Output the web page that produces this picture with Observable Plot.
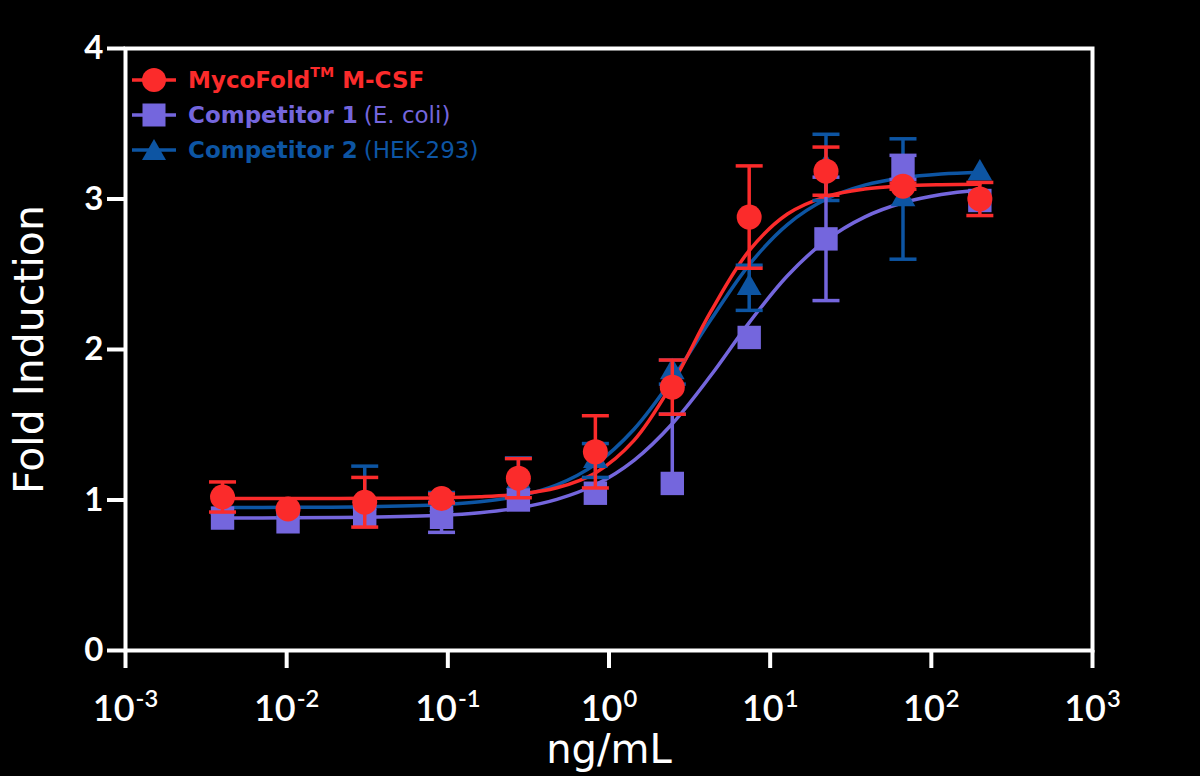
<!DOCTYPE html>
<html><head><meta charset="utf-8">
<script src="https://cdn.jsdelivr.net/npm/d3@7"></script>
<script src="https://cdn.jsdelivr.net/npm/@observablehq/plot@0.6"></script>
<style>
html,body{margin:0;padding:0;background:#000;}
#wrap{position:relative;width:1200px;height:776px;overflow:hidden;}
#legend{position:absolute;left:130px;top:62px;font-family:"DejaVu Sans",sans-serif;font-size:23px;}
.row{display:flex;align-items:center;height:35px;white-space:nowrap;}
.row svg{margin-right:10px;flex:none;}
.b{font-weight:700;}
.n{font-weight:400;margin-left:6px;}
sup{font-size:0.62em;position:relative;top:-0.15em;line-height:0;}
</style></head><body>
<div id="wrap"><div id="chart"></div><div id="legend"></div></div>
<script>
// ---- data ----
const conc = [0.004, 0.0102, 0.0305, 0.0914, 0.274, 0.823, 2.47, 7.41, 22.2, 66.7, 200];

const mycoMean = [1.02, 0.94, 0.985, 1.01, 1.145, 1.32, 1.75, 2.88, 3.185, 3.085, 3.00];
const mycoErr  = [0.10, 0, 0.165, 0.03, 0.13, 0.24, 0.18, 0.34, 0.16, 0.02, 0.11];

const comp1Mean     = [0.88, 0.855, 0.89, 0.885, 1.00, 1.045, 1.11, 2.08, 2.735, 3.21, 2.99];
const comp1ErrUp    = [0, 0, 0, 0.10, 0, 0, 0.46, 0, 0.41, 0.08, 0];
const comp1ErrDown  = [0, 0, 0, 0.10, 0, 0, 0, 0, 0.41, 0.08, 0];

const comp2Mean     = [0.95, 0.93, 0.98, 0.97, 1.12, 1.26, 1.85, 2.41, 3.21, 3.00, 3.17];
const comp2ErrUp    = [0, 0, 0.245, 0.08, 0.16, 0.115, 0.08, 0.15, 0.22, 0.40, 0];
const comp2ErrDown  = [0, 0, 0, 0, 0, 0.11, 0.08, 0.15, 0.22, 0.40, 0];

// fitted curves, read at these concentrations
const fitConc  = [0.004, 0.0102, 0.0305, 0.0914, 0.158, 0.274, 0.475, 0.823, 1.43, 2.47, 4.28, 7.41, 12.8, 22.2, 38.5, 66.7, 115, 200];
const mycoFit  = [1.01, 1.01, 1.011, 1.014, 1.021, 1.038, 1.081, 1.18, 1.396, 1.773, 2.251, 2.657, 2.90, 3.016, 3.066, 3.087, 3.095, 3.098];
const comp1Fit = [0.88, 0.882, 0.886, 0.899, 0.916, 0.947, 1.004, 1.101, 1.264, 1.507, 1.827, 2.179, 2.49, 2.725, 2.88, 2.975, 3.03, 3.06];
const comp2Fit = [0.95, 0.951, 0.955, 0.969, 0.988, 1.026, 1.101, 1.237, 1.47, 1.804, 2.197, 2.563, 2.83, 2.998, 3.092, 3.141, 3.166, 3.178];

const xTicks = [1e-3, 1e-2, 1e-1, 1e0, 1e1, 1e2, 1e3];
const yTicks = [0, 1, 2, 3, 4];
const xLabel = "ng/mL";
const yLabel = "Fold Induction";

const colors = {myco: "#fb2b2b", comp1: "#7466dd", comp2: "#0d55a3"};

// ---- series (drawn bottom to top) ----
const series = [
  {key: "comp2", color: colors.comp2, symbol: "triangle", r: 9.2, mean: comp2Mean, up: comp2ErrUp, down: comp2ErrDown, fit: comp2Fit},
  {key: "comp1", color: colors.comp1, symbol: "square", r: 13.2, mean: comp1Mean, up: comp1ErrUp, down: comp1ErrDown, fit: comp1Fit},
  {key: "myco",  color: colors.myco,  symbol: "circle", r: 12.5, mean: mycoMean, up: mycoErr, down: mycoErr, fit: mycoFit}
];

const capSymbol = {
  draw(ctx, size) {
    const w = Math.sqrt(size / Math.PI);
    ctx.moveTo(-w, 0); ctx.lineTo(w, 0);
  }
};

const marks = [];
for (const s of series) {
  const fitRows = fitConc.map((c, i) => ({x: c, y: s.fit[i]}));
  marks.push(Plot.line(fitRows, {x: "x", y: "y", stroke: s.color, strokeWidth: 3.5, curve: "catmull-rom"}));
}
for (const s of series) {
  const rows = conc.map((c, i) => ({x: c, y: s.mean[i], lo: s.mean[i] - s.down[i], hi: s.mean[i] + s.up[i], up: s.up[i], down: s.down[i]}));
  marks.push(Plot.ruleX(rows.filter(d => d.up + d.down > 0), {x: "x", y1: "lo", y2: "hi", stroke: s.color, strokeWidth: 3.5}));
  marks.push(Plot.dot(rows.filter(d => d.up > 0), {x: "x", y: "hi", symbol: capSymbol, r: 13.5, stroke: s.color, strokeWidth: 3.5, fill: "none"}));
  marks.push(Plot.dot(rows.filter(d => d.down > 0), {x: "x", y: "lo", symbol: capSymbol, r: 13.5, stroke: s.color, strokeWidth: 3.5, fill: "none"}));
  marks.push(Plot.dot(rows, {x: "x", y: "y", symbol: s.symbol, r: s.r, fill: s.color, stroke: "none"}));
}

const chart = Plot.plot({
  width: 1200,
  height: 776,
  marginLeft: 125,
  marginRight: 108,
  marginTop: 48,
  marginBottom: 126,
  style: {background: "black", color: "white", fontFamily: "Lato, sans-serif"},
  x: {type: "log", domain: [1e-3, 1e3]},
  y: {domain: [0, 4]},
  marks: [
    ...marks,
    Plot.frame({stroke: "white", strokeWidth: 4}),
    Plot.axisY({ticks: yTicks, tickSize: 18, tickPadding: 4, fontSize: 33, fontWeight: 700, stroke: "white", strokeWidth: 4, label: null, tickFormat: d => String(d)}),
    Plot.axisX({ticks: xTicks, tickSize: 18, tickPadding: 27, fontSize: 36, fontWeight: 600, stroke: "white", strokeWidth: 4, label: null,
      tickFormat: d => "10^" + Math.round(Math.log10(d))}),
    Plot.text([yLabel], {text: d => d, frameAnchor: "left", rotate: -90, dx: -96, textAnchor: "middle", lineAnchor: "middle", fontSize: 41, fontFamily: "DejaVu Sans, sans-serif", fill: "white"}),
    Plot.text([xLabel], {text: d => d, frameAnchor: "bottom", dy: 100, textAnchor: "middle", lineAnchor: "middle", fontSize: 40, fontFamily: "DejaVu Sans, sans-serif", fill: "white"})
  ]
});

// superscript exponents on x tick labels
d3.select(chart).selectAll('g[aria-label="x-axis tick label"] text').each(function() {
  const parts = this.textContent.split("^");
  const sel = d3.select(this);
  sel.text(null);
  sel.append("tspan").text(parts[0]);
  sel.append("tspan").attr("font-size", "0.66em").attr("dy", "-0.6em").attr("dx", "1").text(parts[1]);
});

document.getElementById("chart").appendChild(chart);

// ---- legend ----
const legendItems = [
  {color: colors.myco, symbol: "circle", html: '<span class="b">MycoFold<sup>TM</sup> M-CSF</span>'},
  {color: colors.comp1, symbol: "square", html: '<span class="b">Competitor 1</span><span class="n">(E. coli)</span>'},
  {color: colors.comp2, symbol: "triangle", html: '<span class="b">Competitor 2</span><span class="n">(HEK-293)</span>'}
];
const legend = document.getElementById("legend");
for (const it of legendItems) {
  let sym;
  if (it.symbol === "circle") sym = `<circle cx="24" cy="15" r="12" fill="${it.color}"/>`;
  else if (it.symbol === "square") sym = `<rect x="12.5" y="3.5" width="23" height="23" fill="${it.color}"/>`;
  else sym = `<path d="M24,4 L36,25 L12,25 Z" fill="${it.color}"/>`;
  const row = document.createElement("div");
  row.className = "row";
  row.style.color = it.color;
  row.innerHTML = `<svg width="48" height="30"><line x1="2" x2="46" y1="15" y2="15" stroke="${it.color}" stroke-width="3.5"/>${sym}</svg>${it.html}`;
  legend.appendChild(row);
}
</script>
</body></html>
